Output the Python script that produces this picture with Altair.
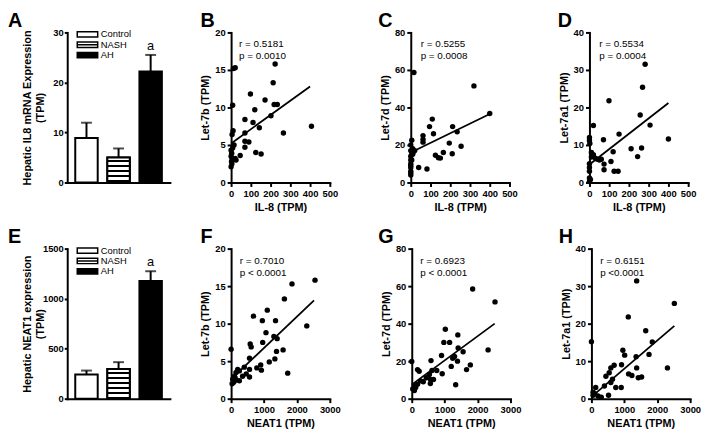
import altair as alt
import pandas as pd

FONT = "Liberation Sans"

# ---------------- bar panels (A, E) ----------------
groups = ["Control", "NASH", "AH"]
il8_mean = [8.9, 5.0, 22.2]
il8_upper = [11.95, 6.8, 25.5]
neat1_mean = [242, 297, 1177]
neat1_upper = [281, 365, 1274]

# ---------------- scatter panels ----------------
xB = [21, 12, 223, 213, 98, 172, 8, 120, 218, 234, 111, 202, 70, 407, 265, 143, 10, 5, 70, 70,
      90, 70, 15, 125, 152, 46, 0, 3, 5, 2, 4, 0, 25, 0, 8, 20]
yB = [15.3, 15.2, 15.8, 13.3, 11.8, 11.0, 10.3, 9.7, 10.4, 10.4, 8.0, 8.9, 8.4, 7.5, 6.6, 7.3, 6.9, 6.4, 6.6, 5.5,
      5.4, 4.7, 5.0, 4.0, 3.8, 3.6, 4.3, 3.9, 3.2, 2.8, 2.5, 2.1, 3.0, 3.5, 4.6, 3.2]

xC = [16, 320, 400, 109, 95, 212, 235, 115, 62, 62, 62, 5, 195, 255, 210, 165, 125, 140, 150, 40,
      82, 0, 5, 10, 15, 20, 0, 0, 0, 0, 0, 0, 0, 0, 5, 10, 0]
yC = [58.6, 51.5, 36.8, 33.8, 29.8, 29.8, 27, 26, 25, 23, 21.5, 22.5, 21, 19.3, 15.3, 16, 14.5, 13.2, 13, 8,
      7.2, 17, 16, 15, 16.5, 17, 14, 12, 10, 9, 8, 6, 5, 4, 12, 18, 20]

xD = [282, 269, 99, 257, 307, 20, 150, 71, 400, 0, 0, 2, 211, 264, 120, 10, 20, 30, 40, 244,
      109, 74, 74, 125, 145, 0, 0, 0, 0, 0, 5, 10, 50, 60]
yD = [31.5, 25.4, 21.8, 18, 15.3, 15.2, 12.9, 11.4, 11.6, 12, 11.2, 10.4, 9.0, 9.2, 8.2, 8.0, 7.4, 6.5, 6.2, 6.9,
      5.6, 4.9, 3.4, 3.0, 3.0, 5, 4, 3, 1.2, 0.3, 0.8, 6.8, 6.0, 6.2]

xF = [2550, 1850, 1620, 1100, 680, 950, 1350, 1060, 1300, 1400, 960, 580, 610, 2300, 1580, 1380, 1330, 0, 560, 1160,
      900, 780, 920, 1720, 400, 560, 560, 350, 460, 250, 200, 150, 100, 50, 80, 160, 250, 120, 30]
yF = [15.8, 15.3, 13.3, 11.8, 11.0, 10.4, 10.4, 8.8, 8.3, 8.0, 7.5, 7.3, 6.9, 9.7, 6.5, 6.3, 5.3, 6.6, 5.4, 4.9,
      4.5, 4.1, 3.8, 3.4, 4.2, 3.9, 2.9, 3.0, 3.3, 3.7, 3.9, 3.5, 3.0, 2.6, 2.2, 2.5, 2.4, 2.8, 2.0]

xG = [1850, 2530, 1020, 1400, 975, 1150, 1410, 2320, 905, 1560, 1245, 1390, 0, 585, 1780, 1200, 1665, 175, 225, 615,
      760, 925, 535, 440, 565, 270, 175, 1335, 565, 80, 30, 80, 660, 1300, 120, 350]
yG = [58.5, 51.6, 37, 34, 30, 30, 27, 26, 23, 25, 21.5, 20, 19.8, 20.3, 18, 17.2, 15.5, 15.5, 14.6, 15,
      15, 13.3, 12.9, 11.2, 10.3, 9.5, 7.7, 7.4, 8.1, 6.9, 5.2, 4.3, 10.2, 22.5, 6.0, 9.0]

xH = [1375, 2520, 1120, 1650, 1850, 0, 955, 1010, 1357, 1750, 915, 2310, 1375, 590, 690, 1130, 1230, 1525, 1425, 540,
      440, 640, 590, 740, 905, 395, 130, 50, 100, 200, 300, 520, 50]
yH = [31.4, 25.4, 21.8, 18.1, 15.1, 15.2, 12.9, 11.6, 11.2, 11.8, 9.05, 8.2, 8.2, 8.2, 8.9, 6.6, 6.2, 5.8, 5.6, 6.9,
      6.0, 5.2, 4.3, 3.0, 3.0, 3.4, 3.0, 1.7, 1.3, 0.7, 0.4, 0.9, 0.9]

# regression lines (end points)
fitB = ([0, 400], [5.2, 12.8])
fitC = ([0, 400], [16.0, 36.5])
fitD = ([0, 400], [4.8, 21.2])
fitF = ([0, 2520], [2.6, 13.1])
fitG = ([0, 2520], [7.5, 40.0])
fitH = ([0, 2520], [0.5, 19.4])

annB = ["r = 0.5181", "p = 0.0010"]
annC = ["r = 0.5255", "p = 0.0008"]
annD = ["r = 0.5534", "p = 0.0004"]
annF = ["r = 0.7010", "p < 0.0001"]
annG = ["r = 0.6923", "p < 0.0001"]
annH = ["r = 0.6151", "p <0.0001"]

il8_ticks = [0, 100, 200, 300, 400, 500]
neat_ticks = [0, 1000, 2000, 3000]

W_BAR, W_SC, H = 104, 100, 152
LEG_OFFSETS = [2.0, 12.5, 23.0]   # legend rows, pixels below the plot top


def letter_title(letter, dx):
    return alt.TitleParams(text=letter, anchor="start", frame="group", dx=dx, offset=-3,
                           fontSize=20, fontWeight="bold", font=FONT, color="black")


def stripe_fill(n):
    stops = []
    for k in range(n):
        a = k / n
        m = (k + 0.6) / n
        b = (k + 1) / n
        stops += [{"offset": a, "color": "white"}, {"offset": m, "color": "white"},
                  {"offset": m, "color": "black"}, {"offset": b, "color": "black"}]
    return {"gradient": "linear", "x1": 0, "y1": 0, "x2": 0, "y2": 1, "stops": stops}


RECT = "M-2.3,-0.6H2.3V0.6H-2.3Z"
RECT_LINE = "M-2.3,-0.6H2.3V0.6H-2.3Z M-2.3,0H2.3"


def bar_panel(means, uppers, ymax, yticks, ytitle, letter, n_stripes):
    df = pd.DataFrame({"g": groups, "m": means, "u": uppers})
    leg_df = pd.DataFrame({"g": groups,
                           "ly": [ymax * (1 - o / H) for o in LEG_OFFSETS],
                           "fc": ["white", "white", "black"],
                           "sh": [RECT, RECT_LINE, RECT]})
    xsc = alt.Scale(domain=groups, paddingInner=0.3, paddingOuter=0.25)
    ysc = alt.Scale(domain=[0, ymax], nice=False)
    xax = alt.Axis(labels=False, ticks=False, title=None, domain=True)
    yax = alt.Axis(values=yticks, title=ytitle, titleX=-35, titleY=H / 2, format="d",
                   labelOverlap=False, tickSize=3, labelPadding=1)
    X = lambda: alt.X("g:N", scale=xsc, sort=groups, axis=xax)
    base = alt.Chart(df)
    bars = base.mark_bar(stroke="black", strokeWidth=2).encode(
        x=X(), y=alt.Y("m:Q", scale=ysc, axis=yax),
        fill=alt.condition(alt.datum.g == "AH", alt.value("black"), alt.value("white")))
    stripes = base.transform_filter(alt.datum.g == "NASH").mark_bar(
        stroke="black", strokeWidth=2, fill=stripe_fill(n_stripes)).encode(
        x=X(), y=alt.Y("m:Q", scale=ysc, axis=yax))
    err = base.mark_rule(color="black", strokeWidth=2).encode(
        x=X(), y=alt.Y("m:Q", scale=ysc, axis=yax), y2="u:Q")
    cap = base.mark_tick(color="black", size=11, thickness=2).encode(
        x=X(), y=alt.Y("u:Q", scale=ysc, axis=yax))
    sig = base.transform_filter(alt.datum.g == "AH").mark_text(
        text="a", baseline="bottom", dy=-2, fontSize=13, font=FONT, color="black").encode(
        x=X(), y=alt.Y("u:Q", scale=ysc, axis=yax))
    leg = alt.Chart(leg_df)
    swatch = leg.mark_point(filled=True, size=81, stroke="black", strokeWidth=1.5, opacity=1).encode(
        x=alt.value(20.5), y=alt.Y("ly:Q", scale=ysc, axis=yax),
        fill=alt.Fill("fc:N", scale=None), shape=alt.Shape("sh:N", scale=None))
    labels = leg.mark_text(align="left", baseline="middle", fontSize=9.5, font=FONT,
                           color="black").encode(
        x=alt.value(34), y=alt.Y("ly:Q", scale=ysc, axis=yax), text="g:N")
    return alt.layer(bars, stripes, err, cap, sig, swatch, labels).properties(
        width=W_BAR, height=H, title=letter_title(letter, -60))


def scatter_panel(xs, ys, fit, ann, ann_xy, xmax, xticks, ymax, yticks, xtitle, ytitle, letter, dx):
    pts_df = pd.DataFrame({"x": xs, "y": ys})
    fit_df = pd.DataFrame({"x": fit[0], "y": fit[1]})
    ann_df = pd.DataFrame({"x": [ann_xy[0]], "y": [ann_xy[1]], "t": ["\n".join(ann)]})
    xsc = alt.Scale(domain=[0, xmax], nice=False)
    ysc = alt.Scale(domain=[0, ymax], nice=False)
    xax = alt.Axis(values=xticks, title=xtitle, labelOverlap=False, labelFlush=False, format="d")
    yax = alt.Axis(values=yticks, title=ytitle, labelOverlap=False, labelFlush=False, format="d")
    X = lambda: alt.X("x:Q", scale=xsc, axis=xax)
    Y = lambda: alt.Y("y:Q", scale=ysc, axis=yax)
    pts = alt.Chart(pts_df).mark_circle(size=30, color="black", opacity=1).encode(x=X(), y=Y())
    line = alt.Chart(fit_df).mark_line(color="black", strokeWidth=1.8).encode(x=X(), y=Y())
    txt = alt.Chart(ann_df).mark_text(align="left", baseline="top", lineBreak="\n", fontSize=10,
                                      lineHeight=12, font=FONT, color="black").encode(
        x=X(), y=Y(), text="t:N")
    return alt.layer(pts, line, txt).properties(width=W_SC, height=H, title=letter_title(letter, dx))


A = bar_panel(il8_mean, il8_upper, 30, [0, 10, 20, 30],
              ["Hepatic IL8 mRNA Expression", "(TPM)"], "A", 5)
E = bar_panel(neat1_mean, neat1_upper, 1500, [0, 500, 1000, 1500],
              ["Hepatic NEAT1 expression", "(TPM)"], "E", 6)

B = scatter_panel(xB, yB, fitB, annB, (40, 19.1), 500, il8_ticks, 20, [0, 5, 10, 15, 20],
                  "IL-8 (TPM)", "Let-7b (TPM)", "B", -31)
C = scatter_panel(xC, yC, fitC, annC, (50, 76.5), 500, il8_ticks, 80, [0, 20, 40, 60, 80],
                  "IL-8 (TPM)", "Let-7d (TPM)", "C", -33)
D = scatter_panel(xD, yD, fitD, annD, (50, 38.3), 500, il8_ticks, 40, [0, 10, 20, 30, 40],
                  "IL-8 (TPM)", "Let-7a1 (TPM)", "D", -32)
F = scatter_panel(xF, yF, fitF, annF, (260, 19.0), 3000, neat_ticks, 20, [0, 5, 10, 15, 20],
                  "NEAT1 (TPM)", "Let-7b (TPM)", "F", -31)
G = scatter_panel(xG, yG, fitG, annG, (260, 76.0), 3000, neat_ticks, 80, [0, 20, 40, 60, 80],
                  "NEAT1 (TPM)", "Let-7d (TPM)", "G", -34)
Hh = scatter_panel(xH, yH, fitH, annH, (265, 38.0), 3000, neat_ticks, 40, [0, 10, 20, 30, 40],
                   "NEAT1 (TPM)", "Let-7a1 (TPM)", "H", -33)


def row(bar, s1, s2, s3, inner_spacing):
    inner = alt.hconcat(s1, s2, s3, spacing=inner_spacing, bounds="full")
    return alt.hconcat(bar, inner, spacing=30, bounds="full")


chart = alt.vconcat(row(A, B, C, D, 41), row(E, F, G, Hh, 38), spacing=14,
                    bounds="full").properties(padding=0).configure(
    font=FONT).configure_axis(
    domainColor="black", domainWidth=2, domainCap="square", tickColor="black", tickWidth=2,
    tickSize=4, labelColor="black", labelFont=FONT, labelFontSize=9.5, labelFontWeight="bold",
    labelPadding=2, labelOverlap=False, titleFont=FONT, titleFontSize=11, titleFontWeight="bold",
    titleColor="black", titlePadding=4, grid=False).configure_view(stroke=None)

chart.save("out.html", embed_options={"renderer": "svg", "actions": False})
